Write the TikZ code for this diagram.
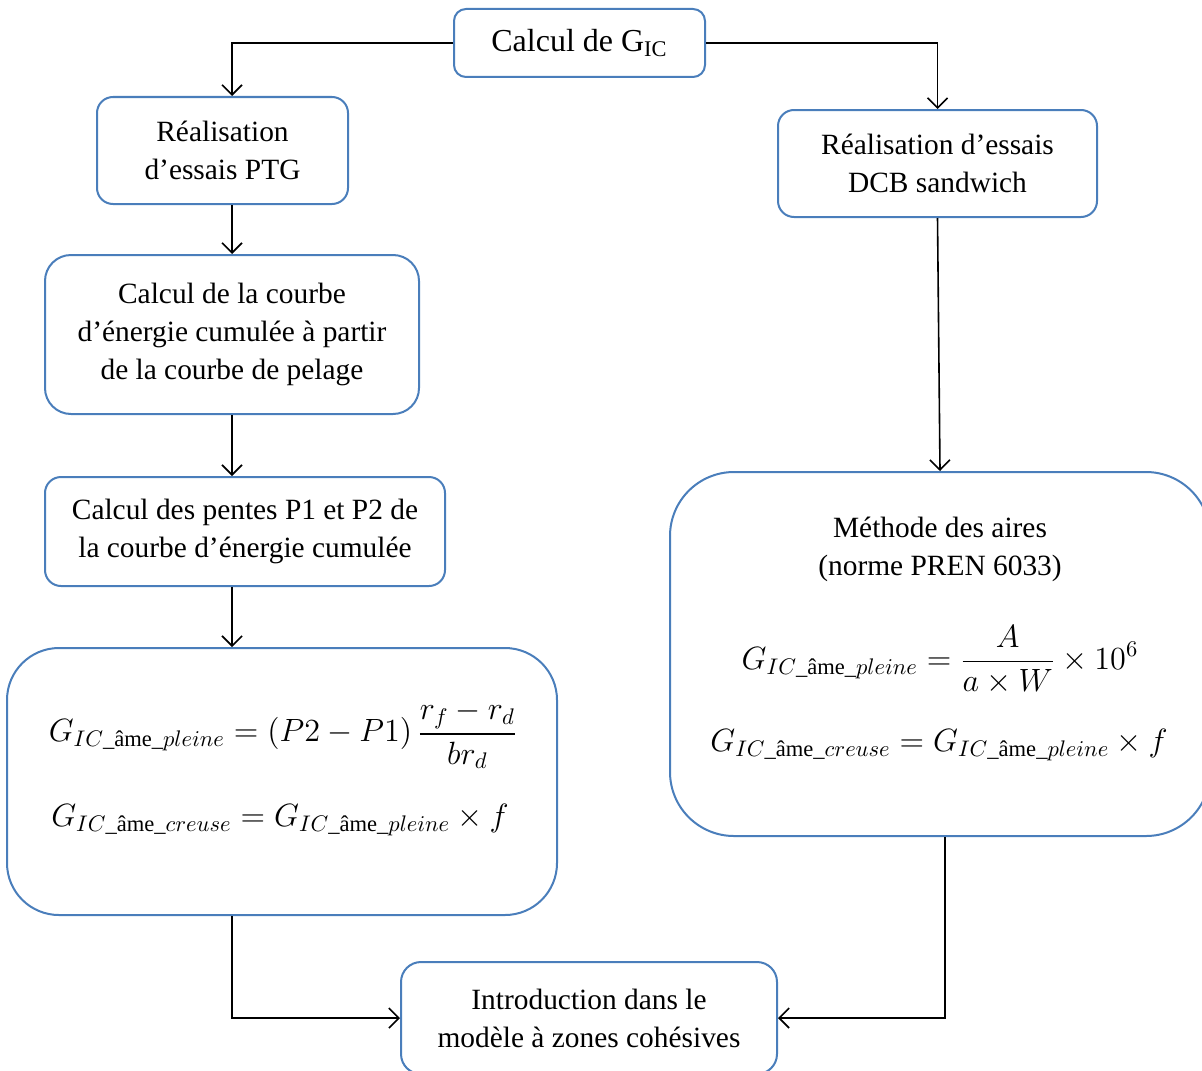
\RequirePackage{fix-cm}
\documentclass[tikz,border=0pt]{standalone}
\usepackage{amsmath}
\usepackage{fontspec}
\setmainfont{Liberation Serif}
\usetikzlibrary{arrows.meta}
\definecolor{boxblue}{HTML}{4A7EBB}
\begin{document}
\begin{tikzpicture}[x=0.5pt,y=-0.5pt,
  box/.style={draw=boxblue,line width=1pt,align=center,inner sep=0pt,
    font=\fontsize{14.7}{19}\selectfont},
  conn/.style={line width=0.8pt,-{Straight Barb[length=5pt,width=10pt]}},
  eqn/.style={inner sep=0pt,font=\fontsize{16.1}{20}\selectfont},
  txt/.style={inner sep=0pt,align=center,font=\fontsize{14.7}{19}\selectfont}]
\useasboundingbox (0,0) rectangle (1202,1070);

\coordinate (colL) at (232,0);
\coordinate (colR) at (945,0);

\node[box,minimum width=125.5pt,minimum height=34pt,rounded corners=6pt,font=\fontsize{16}{19}\selectfont] (gic) at (579.5,43) {Calcul de G\textsubscript{IC}};
\node[box,minimum width=125.5pt,minimum height=53.5pt,rounded corners=8pt] (ptg) at (222.5,150.5) {Réalisation\\d’essais PTG};
\node[box,minimum width=187pt,minimum height=79.5pt,rounded corners=13pt] (courbe) at (232,334.5) {Calcul de la courbe\\d’énergie cumulée à partir\\de la courbe de pelage};
\node[box,minimum width=200pt,minimum height=54.5pt,rounded corners=8pt] (pentes) at (245,531.5) {Calcul des pentes P1 et P2 de\\la courbe d’énergie cumulée};
\node[box,minimum width=275pt,minimum height=133.5pt,rounded corners=26pt] (formL) at (282,781.5) {};
\node[box,minimum width=159.5pt,minimum height=53.5pt,rounded corners=8pt] (dcb) at (937.5,163.5) {Réalisation d’essais\\DCB sandwich};
\node[box,minimum width=270pt,minimum height=182pt,rounded corners=32pt] (aires) at (940,654) {};
\node[box,minimum width=188pt,minimum height=56pt,rounded corners=10pt] (intro) at (589,1018) {Introduction dans le\\modèle à zones cohésives};

% contents of the formula boxes
\node[eqn] (leqa) at (283,735) {$\displaystyle G_{IC\_\text{âme}\_pleine}=(P2-P1)\,\frac{r_f-r_d}{br_d}$};
\node[eqn] (leqb) at (280,820) {$G_{IC\_\text{âme}\_creuse}=G_{IC\_\text{âme}\_pleine}\times f$};
\node[txt] (mtitle) at (940,549) {Méthode des aires\\(norme PREN 6033)};
\node[eqn] (reqa) at (940,660) {$\displaystyle G_{IC\_\text{âme}\_pleine}=\frac{A}{a\times W}\times 10^{6}$};
\node[eqn] (reqb) at (939,745) {$G_{IC\_\text{âme}\_creuse}=G_{IC\_\text{âme}\_pleine}\times f$};

% connectors
\draw[conn] (gic.west) -| (ptg.north -| colL);
\draw[conn] (gic.east) -| (dcb.north);
\draw[conn] (ptg.south -| colL) -- (courbe.north -| colL);
\draw[conn] (courbe.south -| colL) -- (pentes.north -| colL);
\draw[conn] (pentes.south -| colL) -- (formL.north -| colL);
\draw[conn] (dcb.south) -- (aires.north);
\draw[conn] (formL.south -| colL) |- (intro.west);
\draw[conn] (aires.south -| colR) |- (intro.east);
\end{tikzpicture}
\end{document}
